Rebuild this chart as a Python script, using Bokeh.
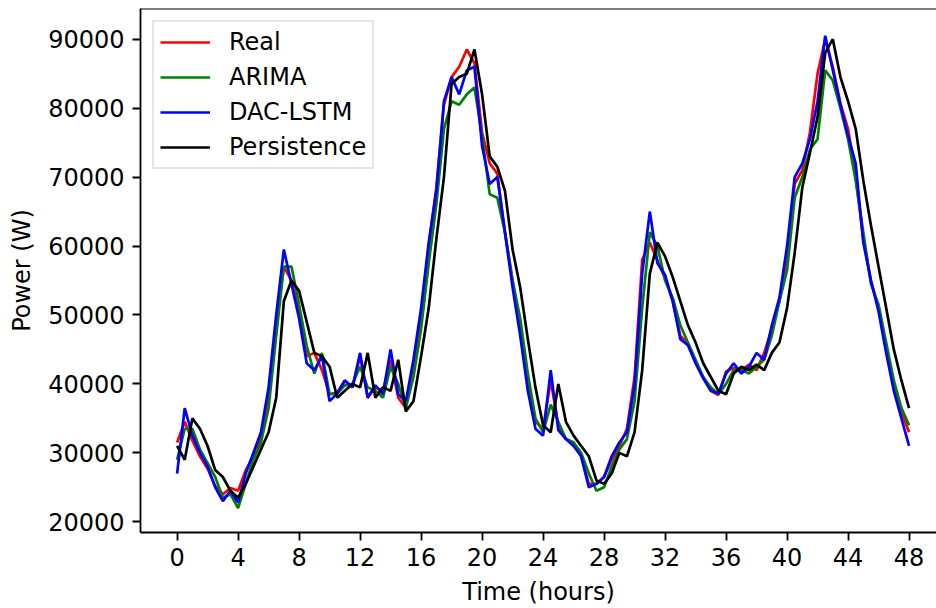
from bokeh.plotting import figure
from bokeh.models import Range1d, SingleIntervalTicker, Legend, LegendItem, Span
from bokeh.embed import file_html
from bokeh.resources import INLINE

hours = [i * 0.5 for i in range(97)]

real = [31500, 34500, 31800, 29500, 27700, 25200, 24000, 24900, 24500, 27500,
        29500, 32300, 38500, 49000, 57000, 55000, 50500, 44000, 44500, 42000,
        38500, 38800, 40500, 39500, 44000, 38000, 39500, 39000, 43500, 38000,
        36500, 43000, 50000, 60000, 68500, 80500, 84500, 86000, 88500, 86500,
        76500, 72000, 70500, 62000, 55000, 48000, 40000, 34500, 33500, 40500,
        34000, 32000, 31500, 29500, 25500, 25500, 26500, 29000, 31000, 33500,
        41000, 58000, 60500, 57900, 55300, 52000, 47000, 45800, 43200, 41000,
        39000, 38400, 41800, 42300, 42000, 42800, 42000, 44500, 48000, 52000,
        58500, 69000, 71000, 76500, 85000, 90000, 86000, 80700, 77000, 70000,
        61000, 55000, 51000, 45000, 39600, 36000, 33000]

arima = [29000, 33500, 33500, 30500, 28500, 26500, 23500, 24000, 22000, 25500,
         29000, 31500, 36500, 47000, 57000, 57000, 51500, 45500, 41500, 44500,
         38500, 38600, 39800, 40000, 42500, 39500, 39000, 38000, 42500, 40000,
         36500, 41000, 48000, 57500, 66000, 77000, 81000, 80500, 82000, 83000,
         76000, 67500, 67000, 62000, 55000, 49500, 41500, 35000, 33000, 37000,
         34500, 32000, 31500, 30000, 27000, 24500, 25000, 28000, 30500, 32000,
         37500, 51000, 62000, 60000, 55000, 52500, 48500, 46000, 43500, 41000,
         39500, 38500, 40000, 42000, 42000, 41500, 42500, 43500, 47000, 52000,
         56500, 67000, 70000, 74000, 75500, 85500, 84000, 80000, 75500, 69500,
         62000, 54500, 51500, 46000, 40500, 36500, 34000]

dac_lstm = [27000, 36500, 32500, 30000, 28000, 25000, 23000, 24500, 22800, 27000,
            30000, 33000, 39500, 50000, 59500, 54500, 49500, 43000, 42000, 44000,
            37500, 38600, 40500, 39500, 44500, 38000, 39800, 38500, 45000, 38500,
            37500, 43500, 51000, 60500, 68000, 81000, 84500, 82000, 85500, 86000,
            74500, 69000, 70000, 62000, 54000, 47000, 39000, 33500, 32500, 42000,
            33300, 32000, 31000, 29500, 25000, 25500, 26500, 29500, 31500, 33000,
            40000, 56000, 65000, 57500, 55800, 52000, 46500, 45600, 43000, 40800,
            39000, 38600, 41500, 43000, 41500, 42500, 44500, 43500, 48500, 52500,
            60000, 70000, 72000, 75500, 81000, 90500, 85500, 80500, 76000, 72000,
            60500, 55000, 50500, 44500, 39000, 35000, 31000]

persistence = [31000, 29000, 35000, 33500, 31000, 27500, 26500, 24500, 23500, 25500,
               28000, 30500, 33000, 38000, 52000, 55000, 53500, 49000, 44500, 44000,
               42500, 38000, 39000, 40000, 39500, 44500, 38000, 39500, 39000, 43500,
               36000, 37500, 44000, 51000, 61000, 70000, 83500, 84500, 85000, 88500,
               82000, 73000, 71500, 68000, 59500, 54000, 46500, 39500, 34000, 33000,
               40000, 34500, 32500, 31000, 29500, 26000, 25500, 27000, 30000, 29500,
               33000, 42000, 56000, 60500, 58500, 55500, 52000, 48500, 46000, 43000,
               41000, 39000, 38500, 41500, 42500, 42000, 42800, 42000, 44500, 46000,
               51000, 59000, 68500, 73500, 78700, 88000, 90000, 84500, 81000, 77000,
               69500, 63000, 57000, 51000, 45000, 40500, 36500]

series_names = ["Real", "ARIMA", "DAC-LSTM", "Persistence"]
series_colors = ["#ff0000", "#008000", "#0000ff", "#000000"]
series_values = [real, arima, dac_lstm, persistence]

FONT = "DejaVu Sans"
FS = "24px"

p = figure(frame_width=796, frame_height=524, output_backend="svg", toolbar_location=None,
           x_range=Range1d(-2.4, 49.8), y_range=Range1d(18450, 94450),
           min_border_left=140, min_border_right=0, min_border_top=8, min_border_bottom=0)

p.xgrid.visible = False
p.ygrid.visible = False
p.outline_line_color = None
p.background_fill_color = "white"
p.border_fill_color = "white"

renderers = []
for name, col, vals in zip(series_names, series_colors, series_values):
    r = p.line(hours, vals, line_color=col, line_width=2.7)
    renderers.append((name, r))

p.xaxis.ticker = SingleIntervalTicker(interval=4, num_minor_ticks=0)
p.yaxis.ticker = SingleIntervalTicker(interval=10000, num_minor_ticks=0)
for ax in (p.xaxis[0], p.yaxis[0]):
    ax.axis_line_width = 1.8
    ax.major_tick_line_width = 1.8
    ax.major_tick_out = 8
    ax.major_tick_in = 0
    ax.minor_tick_out = 0
    ax.minor_tick_in = 0
    ax.major_label_text_font = FONT
    ax.major_label_text_font_size = FS
    ax.major_label_text_color = "black"
    ax.axis_label_text_font = FONT
    ax.axis_label_text_font_size = FS
    ax.axis_label_text_font_style = "normal"
    ax.axis_label_text_color = "black"

p.xaxis.axis_label = "Time (hours)"
p.yaxis.axis_label = "Power (W)"
p.xaxis.major_label_standoff = 7
p.xaxis.axis_label_standoff = 9
p.yaxis.major_label_standoff = 8
p.yaxis.axis_label_standoff = 9

top_spine = Span(location=94450, dimension="width", line_color="black", line_width=1.8)
p.add_layout(top_spine)

legend = Legend(items=[LegendItem(label=n, renderers=[r]) for n, r in renderers],
                location="top_left")
legend.margin = 12
legend.padding = 6
legend.spacing = 7
legend.glyph_width = 50
legend.glyph_height = 26
legend.label_height = 26
legend.label_standoff = 19
legend.label_text_font = FONT
legend.label_text_font_size = FS
legend.label_text_color = "black"
legend.border_line_color = "#cccccc"
legend.border_line_width = 2
legend.background_fill_alpha = 0.8
p.add_layout(legend)

open("out.html", "w").write(file_html(p, INLINE))
